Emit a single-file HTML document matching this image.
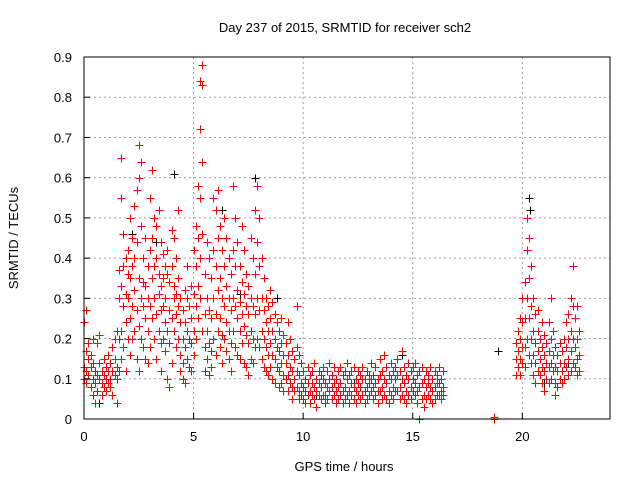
<!DOCTYPE html>
<html><head><meta charset="utf-8"><style>
html,body{margin:0;padding:0;background:#fff;}
svg text{font-family:"Liberation Sans",sans-serif;font-size:13px;fill:#000;}
</style></head><body>
<svg id="chart" width="640" height="480" viewBox="0 0 640 480">
<rect width="640" height="480" fill="#fff"/>
<g id="grid"></g>
<g id="marks"></g>
<rect x="84" y="57" width="526" height="362" fill="none" stroke="#000" stroke-width="1"/>
<g id="ticks"></g>
<text x="345" y="32" text-anchor="middle">Day 237 of 2015, SRMTID for receiver sch2</text>
<text x="344" y="471" text-anchor="middle">GPS time / hours</text>
<text transform="translate(18,238) rotate(-90)" text-anchor="middle">SRMTID / TECUs</text>
</svg>
<script>
const xTicks=[0,5,10,15,20];
const yTicks=[0,0.1,0.2,0.3,0.4,0.5,0.6,0.7,0.8,0.9];
const yTickLabels=["0","0.1","0.2","0.3","0.4","0.5","0.6","0.7","0.8","0.9"];
// red series: [hour, value-list]
const redGroups=[
[0.0,[.24,.13,.10]],[0.1,[.27,.17,.12,.09]],[0.2,[.15,.11,.19]],[0.3,[.13,.08,.16]],[0.4,[.10,.06,.14,.20]],
[0.5,[.12,.04,.09]],[0.6,[.19,.11,.07]],[0.7,[.21,.14,.10]],[0.8,[.09,.12,.06]],[0.9,[.11,.15,.08]],
[1.0,[.13,.07,.10]],[1.1,[.16,.09,.12]],[1.2,[.10,.14,.08]],[1.3,[.12,.18,.06]],[1.4,[.15,.11,.20]],
[1.5,[.22,.13,.04,.10]],[1.6,[.30,.20,.12,.37]],[1.7,[.65,.55,.33,.22,.15]],[1.8,[.38,.28,.18,.46]],
[1.9,[.31,.24,.12,.40]],[2.0,[.42,.30,.20,.36]],[2.1,[.50,.35,.25,.16]],[2.2,[.45,.28,.38,.20]],
[2.3,[.53,.32,.22,.40]],[2.4,[.57,.44,.27,.15]],[2.5,[.68,.60,.35,.23,.12]],[2.6,[.64,.48,.30,.20]],
[2.7,[.40,.28,.18,.34]],[2.8,[.45,.33,.15,.25]],[2.9,[.30,.14,.38,.22]],[3.0,[.55,.42,.28,.18]],
[3.1,[.62,.45,.35,.25]],[3.2,[.50,.38,.30,.20]],[3.3,[.48,.40,.26,.15]],[3.4,[.52,.36,.31,.22]],
[3.5,[.44,.33,.27,.19,.12]],[3.6,[.41,.35,.28,.20]],[3.7,[.38,.30,.24,.17]],[3.8,[.36,.42,.22,.10]],
[3.9,[.34,.27,.19,.08]],[4.0,[.47,.38,.25,.14]],[4.1,[.45,.33,.22,.30]],[4.2,[.40,.31,.26,.18]],
[4.3,[.35,.28,.20,.52]],[4.4,[.30,.24,.16,.12]],[4.5,[.27,.20,.14,.10]],[4.6,[.32,.24,.18,.09]],
[4.7,[.30,.22,.15,.38]],[4.8,[.28,.20,.13]],[4.9,[.25,.19,.12,.33]],[5.0,[.31,.22,.16,.42]],
[5.1,[.38,.28,.20,.48]],[5.2,[.58,.45,.33,.25]],[5.3,[.84,.72,.55,.40,.30]],[5.4,[.88,.83,.64,.46,.22]],
[5.5,[.36,.26,.18,.12]],[5.6,[.30,.22,.15,.44]],[5.7,[.40,.27,.19,.11]],[5.8,[.35,.25,.17,.13]],
[5.9,[.55,.42,.30,.20]],[6.0,[.52,.38,.26,.16]],[6.1,[.57,.45,.32,.22]],[6.2,[.48,.35,.25,.18]],
[6.3,[.42,.30,.21,.14]],[6.4,[.38,.28,.20,.50]],[6.5,[.45,.33,.24,.17]],[6.6,[.40,.30,.22,.15]],
[6.7,[.36,.27,.19,.12]],[6.8,[.58,.42,.30,.22]],[6.9,[.50,.38,.28,.18]],[7.0,[.44,.32,.25,.16]],
[7.1,[.38,.29,.22,.15]],[7.2,[.48,.34,.26,.19]],[7.3,[.42,.31,.23,.14]],[7.4,[.36,.28,.21,.13]],
[7.5,[.33,.26,.19,.11]],[7.6,[.45,.30,.22,.15]],[7.7,[.40,.28,.20,.14]],[7.8,[.52,.36,.26,.18]],
[7.9,[.58,.44,.30,.20]],[8.0,[.50,.38,.27,.18]],[8.1,[.40,.30,.22,.15]],[8.2,[.35,.27,.20,.13]],
[8.3,[.30,.24,.18,.12]],[8.4,[.28,.22,.16,.11]],[8.5,[.32,.25,.19,.13]],[8.6,[.29,.22,.16,.10]],
[8.7,[.26,.20,.15,.09]],[8.8,[.24,.18,.13]],[8.9,[.22,.17,.12,.08]],[9.0,[.25,.19,.14,.09]],
[9.1,[.21,.16,.11,.07]],[9.2,[.19,.14,.10]],[9.3,[.24,.16,.11,.07]],[9.4,[.20,.13,.09]],
[9.5,[.17,.12,.08,.05]],[9.6,[.15,.10,.07]],[9.7,[.28,.18,.12,.08]],[9.8,[.16,.11,.07,.05]],[9.9,[.14,.09,.06]],
[10.0,[.12,.08,.05]],[10.1,[.10,.07,.04]],[10.2,[.13,.09,.06]],[10.3,[.11,.07,.04]],[10.4,[.09,.06,.12]],
[10.5,[.14,.08,.05]],[10.6,[.10,.07,.03]],[10.7,[.12,.09,.06]],[10.8,[.08,.05,.11]],[10.9,[.13,.10,.06]],
[11.0,[.09,.06,.04]],[11.1,[.12,.08,.05]],[11.2,[.10,.07,.14]],[11.3,[.08,.05,.11]],[11.4,[.13,.09,.06]],
[11.5,[.10,.07,.04]],[11.6,[.12,.08,.05]],[11.7,[.09,.06,.13]],[11.8,[.11,.07,.04]],[11.9,[.08,.05,.12]],
[12.0,[.14,.10,.06]],[12.1,[.11,.07,.04]],[12.2,[.09,.06,.12]],[12.3,[.13,.08,.05]],[12.4,[.10,.07,.04]],
[12.5,[.12,.09,.06]],[12.6,[.08,.05,.11]],[12.7,[.13,.10,.06]],[12.8,[.10,.07,.04]],[12.9,[.12,.08,.05]],
[13.0,[.09,.06,.11]],[13.1,[.14,.10,.07]],[13.2,[.11,.08,.05]],[13.3,[.13,.09,.06]],[13.4,[.10,.07,.04]],
[13.5,[.15,.11,.07]],[13.6,[.12,.08,.05]],[13.7,[.16,.10,.06]],[13.8,[.13,.09,.05]],[13.9,[.11,.07,.04]],
[14.0,[.14,.10,.06]],[14.1,[.12,.08,.05]],[14.2,[.10,.07,.13]],[14.3,[.15,.11,.07]],[14.4,[.12,.08,.05]],
[14.5,[.17,.10,.06]],[14.6,[.13,.09,.05]],[14.7,[.11,.07,.04]],[14.8,[.14,.10,.06]],[14.9,[.12,.08,.05]],
[15.0,[.10,.07,.13]],[15.1,[.14,.09,.06]],[15.2,[.11,.07,.04]],[15.3,[.0,.08,.12]],[15.4,[.13,.09,.05]],
[15.5,[.10,.06,.03]],[15.6,[.12,.08,.05]],[15.7,[.09,.06,.11]],[15.8,[.13,.08,.05]],[15.9,[.10,.07,.04]],
[16.0,[.12,.08,.05]],[16.1,[.09,.06,.11]],[16.2,[.13,.09,.06]],[16.3,[.10,.07,.05]],[16.4,[.08,.06,.12]],
[18.7,[.0,.005]],
[19.7,[.15,.11,.19]],[19.8,[.17,.13,.22]],[19.9,[.20,.15,.11,.25]],[20.0,[.24,.18,.14,.30]],
[20.1,[.34,.25,.18,.13]],[20.2,[.50,.42,.30,.20]],[20.3,[.45,.35,.25,.16]],[20.4,[.38,.28,.20,.14]],
[20.5,[.30,.22,.16,.11]],[20.6,[.26,.19,.14,.09]],[20.7,[.22,.17,.12,.27]],[20.8,[.20,.15,.11]],
[20.9,[.24,.18,.13,.09]],[21.0,[.21,.16,.12,.07]],[21.1,[.19,.14,.10]],[21.2,[.17,.13,.09,.24]],
[21.3,[.30,.20,.14,.10]],[21.4,[.22,.16,.12]],[21.5,[.18,.13,.09,.06]],[21.6,[.16,.12,.08]],
[21.7,[.14,.10,.19]],[21.8,[.17,.12,.09]],[21.9,[.20,.14,.10]],[22.0,[.24,.18,.13]],
[22.1,[.26,.20,.15,.11]],[22.2,[.30,.22,.17,.12]],[22.3,[.38,.28,.20,.14]],[22.4,[.25,.18,.13]],
[22.5,[.28,.20,.15,.11]],[22.6,[.22,.16,.12]]
];
const blackTimes=[0.7,2.2,3.3,4.1,4.6,5.4,6.3,7.1,7.8,8.8,10.6,12.3,14.5,18.9,20.3,20.35,21.0,22.1];
const blackValues=[.04,.46,.44,.61,.32,.64,.52,.31,.60,.30,.06,.09,.16,.17,.55,.52,.09,.14];

const X0=84,X1=610,Y0=419,Y1=57,XMAX=24,YMAX=0.9;
const xs=v=>X0+(X1-X0)*v/XMAX;
const ys=v=>Y0-(Y0-Y1)*v/YMAX;
const NS="http://www.w3.org/2000/svg";
const grid=document.getElementById('grid'),ticks=document.getElementById('ticks'),marks=document.getElementById('marks');
function mk(tag,attrs,parent){const e=document.createElementNS(NS,tag);for(const k in attrs)e.setAttribute(k,attrs[k]);parent.appendChild(e);return e;}
xTicks.forEach(t=>{
  const x=xs(t);
  if(t>0){const g=mk('line',{x1:x,x2:x,y1:Y0,y2:Y1,stroke:'#a0a0a0','stroke-dasharray':'2,3'},grid);
  
  }
  const tk=mk('line',{x1:x,x2:x,y1:Y0,y2:Y0-6,stroke:'#000'},ticks);
  
  
  const lb=mk('text',{x:x,y:Y0+22,'text-anchor':'middle'},ticks);lb.textContent=t;
  
  
});
yTicks.forEach((t,i)=>{
  const y=ys(t);
  if(t>0){const g=mk('line',{x1:X0,x2:X1,y1:y,y2:y,stroke:'#a0a0a0','stroke-dasharray':'2,3'},grid);
  
  }
  const tk=mk('line',{x1:X0,x2:X0+6,y1:y,y2:y,stroke:'#000'},ticks);
  
  
  const lb=mk('text',{x:X0-12,y:y+5,'text-anchor':'end'},ticks);lb.textContent=yTickLabels[i];
  
  
});
function plus(t,v,color){
  const x=Math.round(xs(t))+0.5,y=Math.round(ys(v))+0.5;
  const p=mk('path',{d:`M${x-4} ${y}H${x+4}M${x} ${y-4}V${y+4}`,stroke:color,'stroke-width':1,fill:'none'},marks);
  
  
}
blackTimes.forEach((t,i)=>plus(t,blackValues[i],'#000'));
redGroups.forEach(g=>g[1].forEach(v=>plus(g[0],v,'#ff0000')));
</script>
</body></html>
